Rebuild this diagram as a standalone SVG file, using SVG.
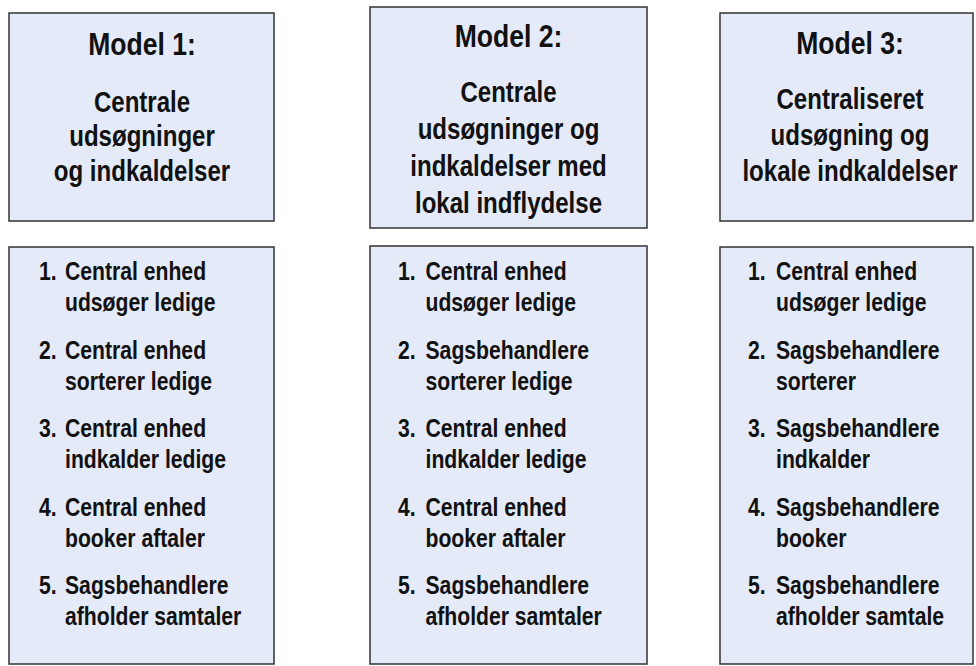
<svg xmlns="http://www.w3.org/2000/svg" width="976" height="666" viewBox="0 0 976 666">
<style>
.box{fill:#E5EAF8;stroke:#333;stroke-width:1.5}
.t{font-family:"Liberation Sans",Arial,sans-serif;font-weight:bold;fill:#111}
.h{font-size:32px;text-anchor:middle}
.s{font-size:29px;text-anchor:middle}
.l{font-size:25.5px}
</style>
<rect width="976" height="666" fill="#fff"/>
<g id="model1-head">
<rect class="box" x="9" y="13" width="265" height="208"/>
<text class="t h" transform="translate(142,55) scale(0.83,1)">Model 1:</text>
<text class="t s" transform="translate(142,112) scale(0.83,1)">Centrale</text>
<text class="t s" transform="translate(142,146) scale(0.83,1)">udsøgninger</text>
<text class="t s" transform="translate(142,181) scale(0.83,1)">og indkaldelser</text>
</g>
<g id="model2-head">
<rect class="box" x="370" y="7" width="277" height="221"/>
<text class="t h" transform="translate(508.5,47) scale(0.83,1)">Model 2:</text>
<text class="t s" transform="translate(508.5,102) scale(0.83,1)">Centrale</text>
<text class="t s" transform="translate(508.5,139) scale(0.83,1)">udsøgninger og</text>
<text class="t s" transform="translate(508.5,176) scale(0.83,1)">indkaldelser med</text>
<text class="t s" transform="translate(508.5,213) scale(0.83,1)">lokal indflydelse</text>
</g>
<g id="model3-head">
<rect class="box" x="720" y="13" width="253" height="208"/>
<text class="t h" transform="translate(850,54) scale(0.83,1)">Model 3:</text>
<text class="t s" transform="translate(850,109) scale(0.83,1)">Centraliseret</text>
<text class="t s" transform="translate(850,145) scale(0.83,1)">udsøgning og</text>
<text class="t s" transform="translate(850,181) scale(0.83,1)">lokale indkaldelser</text>
</g>
<g id="model1-steps">
<rect class="box" x="9" y="247" width="265" height="417"/>
<text class="t l" transform="translate(39,280) scale(0.83,1)">1.</text>
<text class="t l" transform="translate(65,280) scale(0.83,1)">Central enhed</text>
<text class="t l" transform="translate(65,311) scale(0.83,1)">udsøger ledige</text>
<text class="t l" transform="translate(39,358.5) scale(0.83,1)">2.</text>
<text class="t l" transform="translate(65,358.5) scale(0.83,1)">Central enhed</text>
<text class="t l" transform="translate(65,389.5) scale(0.83,1)">sorterer ledige</text>
<text class="t l" transform="translate(39,437) scale(0.83,1)">3.</text>
<text class="t l" transform="translate(65,437) scale(0.83,1)">Central enhed</text>
<text class="t l" transform="translate(65,468) scale(0.83,1)">indkalder ledige</text>
<text class="t l" transform="translate(39,515.5) scale(0.83,1)">4.</text>
<text class="t l" transform="translate(65,515.5) scale(0.83,1)">Central enhed</text>
<text class="t l" transform="translate(65,546.5) scale(0.83,1)">booker aftaler</text>
<text class="t l" transform="translate(39,594) scale(0.83,1)">5.</text>
<text class="t l" transform="translate(65,594) scale(0.83,1)">Sagsbehandlere</text>
<text class="t l" transform="translate(65,625) scale(0.83,1)">afholder samtaler</text>
</g>
<g id="model2-steps">
<rect class="box" x="370" y="246" width="277" height="418"/>
<text class="t l" transform="translate(398,280) scale(0.83,1)">1.</text>
<text class="t l" transform="translate(425.5,280) scale(0.83,1)">Central enhed</text>
<text class="t l" transform="translate(425.5,311) scale(0.83,1)">udsøger ledige</text>
<text class="t l" transform="translate(398,358.5) scale(0.83,1)">2.</text>
<text class="t l" transform="translate(425.5,358.5) scale(0.83,1)">Sagsbehandlere</text>
<text class="t l" transform="translate(425.5,389.5) scale(0.83,1)">sorterer ledige</text>
<text class="t l" transform="translate(398,437) scale(0.83,1)">3.</text>
<text class="t l" transform="translate(425.5,437) scale(0.83,1)">Central enhed</text>
<text class="t l" transform="translate(425.5,468) scale(0.83,1)">indkalder ledige</text>
<text class="t l" transform="translate(398,515.5) scale(0.83,1)">4.</text>
<text class="t l" transform="translate(425.5,515.5) scale(0.83,1)">Central enhed</text>
<text class="t l" transform="translate(425.5,546.5) scale(0.83,1)">booker aftaler</text>
<text class="t l" transform="translate(398,594) scale(0.83,1)">5.</text>
<text class="t l" transform="translate(425.5,594) scale(0.83,1)">Sagsbehandlere</text>
<text class="t l" transform="translate(425.5,625) scale(0.83,1)">afholder samtaler</text>
</g>
<g id="model3-steps">
<rect class="box" x="720" y="247" width="253" height="417"/>
<text class="t l" transform="translate(748,280) scale(0.83,1)">1.</text>
<text class="t l" transform="translate(776,280) scale(0.83,1)">Central enhed</text>
<text class="t l" transform="translate(776,311) scale(0.83,1)">udsøger ledige</text>
<text class="t l" transform="translate(748,358.5) scale(0.83,1)">2.</text>
<text class="t l" transform="translate(776,358.5) scale(0.83,1)">Sagsbehandlere</text>
<text class="t l" transform="translate(776,389.5) scale(0.83,1)">sorterer</text>
<text class="t l" transform="translate(748,437) scale(0.83,1)">3.</text>
<text class="t l" transform="translate(776,437) scale(0.83,1)">Sagsbehandlere</text>
<text class="t l" transform="translate(776,468) scale(0.83,1)">indkalder</text>
<text class="t l" transform="translate(748,515.5) scale(0.83,1)">4.</text>
<text class="t l" transform="translate(776,515.5) scale(0.83,1)">Sagsbehandlere</text>
<text class="t l" transform="translate(776,546.5) scale(0.83,1)">booker</text>
<text class="t l" transform="translate(748,594) scale(0.83,1)">5.</text>
<text class="t l" transform="translate(776,594) scale(0.83,1)">Sagsbehandlere</text>
<text class="t l" transform="translate(776,625) scale(0.83,1)">afholder samtale</text>
</g>
<g id="connectors"/>
</svg>
